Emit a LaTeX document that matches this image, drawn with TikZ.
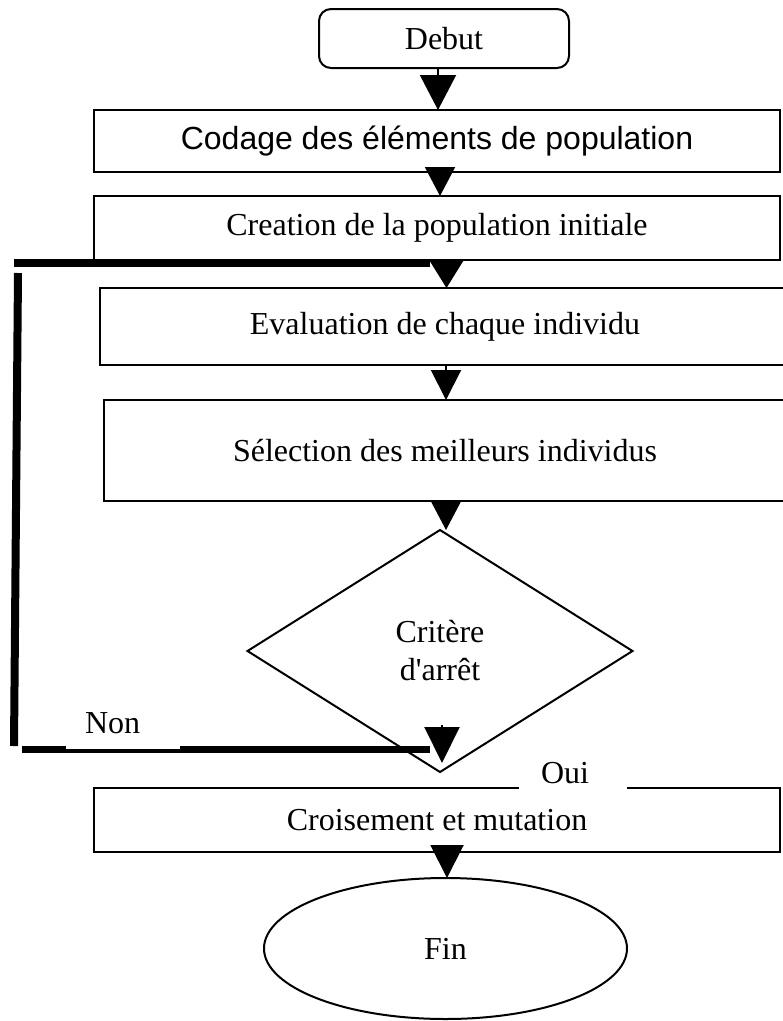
\documentclass[tikz,border=0pt]{standalone}
\usepackage{fontspec}
\setmainfont{Liberation Serif}
\newfontfamily\arialfont{Liberation Sans}
\usetikzlibrary{arrows.meta,shapes.geometric}
\begin{document}
\begin{tikzpicture}[x=1pt,y=-1pt,
  every node/.style={font=\fontsize{32}{38}\selectfont, inner sep=0pt, outer sep=0pt},
  box/.style={draw, line width=2pt, rectangle},
  arr/.style 2 args={line width=2pt, -{Triangle[width=#1,length=#2]}},
  loopline/.style={line width=8pt},
  lbl/.style={fill=white, align=left, anchor=base west}]
\useasboundingbox (0,0) rectangle (783,1021);
% nodes
\node[box, rounded corners=12pt, minimum width=250pt, minimum height=59pt] (debut) at (444,38.5) {Debut};
\node[box, minimum width=686pt, minimum height=62pt, font=\arialfont\fontsize{32}{38}\selectfont] (codage) at (437,141) {Codage des éléments de population};
\node[box, minimum width=686pt, minimum height=64pt] (creation) at (437,228) {Creation de la population initiale};
\node[box, minimum width=690pt, minimum height=77pt] (eval) at (445,326.5) {Evaluation de chaque individu};
\node[box, minimum width=682pt, minimum height=101pt] (select) at (445,450.5) {Sélection des meilleurs individus};
\node[draw, diamond, line width=2pt, minimum width=385pt, minimum height=242pt, align=center] (crit) at (440,651) {Critère\\d\textquotesingle arrêt};
\node[box, minimum width=686pt, minimum height=64pt] (crois) at (437,820) {Croisement et mutation};
\node[draw, ellipse, line width=2pt, minimum width=363pt, minimum height=141pt] (fin) at (445.5,948.5) {Fin};
% arrow abscissae
\coordinate (xa) at (438,0);
\coordinate (xb) at (440,0);
\coordinate (xc) at (446.5,0);
\coordinate (xd) at (446,0);
\coordinate (xe) at (447,0);
% straight arrows
\draw[arr={36pt}{35pt}] (debut.south -| xa) -- (codage.north -| xa);
\draw[arr={30pt}{29pt}] (codage.south -| xb) -- (creation.north -| xb);
\draw[arr={33pt}{27pt}] (creation.south -| xc) -- (eval.north -| xc);
\draw[arr={30pt}{30pt}] (eval.south -| xd) -- (select.north -| xd);
\draw[arr={30pt}{29pt}] (select.south -| xd) -- (crit.north -| xd);
\draw[arr={33pt}{33pt}] (crois.south -| xe) -- (fin.north -| xe);
% loop back (Non)
\coordinate (ltopL) at (14,263);
\coordinate (ltopR) at (430,263);
\coordinate (lvT) at (18,273);
\coordinate (lvB) at (14,746);
\coordinate (lbotL) at (22,749.5);
\coordinate (lbotR) at (430,749.5);
\coordinate (narrT) at (442,725);
\coordinate (narrB) at (442,763);
\draw[loopline] (ltopL) -- (ltopR);
\draw[loopline] (lvT) -- (lvB);
\draw[loopline, line width=7pt] (lbotL) -- (lbotR);
\draw[arr={35pt}{36pt}] (narrT) -- (narrB);
% labels
\node[lbl, inner xsep=19pt, inner ysep=16pt, text width=76pt] (non) at (66,733) {Non};
\node[lbl, inner xsep=22pt, inner ysep=8pt, text width=64pt] (oui) at (519,783) {Oui};
\end{tikzpicture}
\end{document}
